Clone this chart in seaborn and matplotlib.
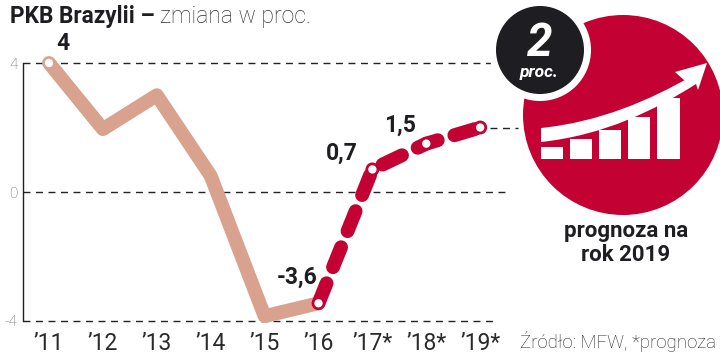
import matplotlib
matplotlib.use("Agg")
import matplotlib.pyplot as plt
import seaborn as sns
import pandas as pd
from matplotlib.patches import Circle, Rectangle, PathPatch, Polygon
from matplotlib.path import Path

sns.set_theme(style="white")
plt.rcParams['font.family'] = ['Roboto', 'DejaVu Sans']

years = [2011, 2012, 2013, 2014, 2015, 2016, 2017, 2018, 2019]
tick_labels = ["’11", "’12", "’13", "’14", "’15", "’16", "’17*", "’18*", "’19*"]
actual_years = years[:6]
actual_values = [4, 1.95, 3.0, 0.5, -3.85, -3.45]
forecast_years = years[5:]
forecast_values = [-3.45, 0.7, 1.5, 2.0]
marker_years = [2011, 2016, 2017, 2018, 2019]
marker_values = [4, -3.45, 0.7, 1.5, 2.0]
y_ticks = [4, 0, -4]
guide_levels = [4, 2, 0, -4]
guide_ends_px = [492, 518, 508, 496]

SALMON = "#D9A28E"
RED = "#C30233"
INK = "#1E1E22"

W, H = 720, 354
fig = plt.figure(figsize=(W/100, H/100), dpi=100, facecolor="white")

L, R, T, B = 23, 720, 63, 321
ax = fig.add_axes([L/W, 1-B/H, (R-L)/W, (B-T)/H], facecolor="none")
ax.set_ylim(-4, 4)
x_of = lambda px: 2011 + (px-49)/53.9
ax.set_xlim(x_of(L), x_of(R))

bg = fig.add_axes([0, 0, 1, 1], zorder=-1)
fg = fig.add_axes([0, 0, 1, 1], zorder=5, facecolor="none")
for a in (bg, fg):
    a.set_xlim(0, W); a.set_ylim(H, 0); a.axis("off")

# guide lines
for lev, end in zip(guide_levels, guide_ends_px):
    start = 0 if lev != 2 else (490-L)/(R-L)
    ax.axhline(lev, xmin=start, xmax=(end-L)/(R-L), color="#222222", lw=1.0,
               ls=(0, (5, 4)), zorder=1, clip_on=False)

# series
actual = pd.DataFrame({"year": actual_years, "value": actual_values})
forecast = pd.DataFrame({"year": forecast_years, "value": forecast_values})
markers = pd.DataFrame({"year": marker_years, "value": marker_values})

sns.lineplot(data=forecast, x="year", y="value", ax=ax, color=RED, lw=10, zorder=3)
l = ax.lines[-1]
l.set_linestyle((0, (1.55, 1.25)))
l.set_dash_capstyle("round")
l.set_dash_joinstyle("round")
l.set_clip_on(False)

sns.lineplot(data=actual, x="year", y="value", ax=ax, color=SALMON, lw=10, zorder=2.5)
l = ax.lines[-1]
l.set_solid_capstyle("round")
l.set_solid_joinstyle("round")
l.set_clip_on(False)

# red discs keep the white dots visible where they fall in a dash gap
sns.scatterplot(data=forecast.iloc[1:], x="year", y="value", ax=ax, color=RED, s=100,
                edgecolor="none", zorder=3.5, clip_on=False)
sns.scatterplot(data=markers, x="year", y="value", ax=ax, color="white", s=36,
                edgecolor="none", zorder=4, clip_on=False)

ax.set_xticks(years)
ax.set_xticklabels(tick_labels, fontsize=16.5, color="#2a2a2a")
ax.set_yticks(y_ticks)
ax.set_yticklabels(["4", "0", "-4"], fontsize=11, color="#666666", fontweight="light")
ax.tick_params(axis="both", length=0)
ax.tick_params(axis="x", pad=8)
ax.tick_params(axis="y", pad=4)
ax.set_xlabel(""); ax.set_ylabel("")
sns.despine(ax=ax, left=False, bottom=True, top=True, right=True)
ax.spines["left"].set_color("#222222")
ax.spines["left"].set_linewidth(1.0)

# title
fg.text(10, 16, "PKB Brazylii –", fontsize=16.3, fontweight="bold", color=INK,
        va="center", ha="left")
fg.text(160, 16, "zmiana w proc.", fontsize=16.6, fontweight="light", color="#333333",
        va="center", ha="left")

# value labels
for px, py, s in [(63, 44, "4"), (297, 277, "-3,6"), (342, 153, "0,7"), (400, 125, "1,5")]:
    fg.text(px, py, s, fontsize=16.5, fontweight="bold", color=INK, ha="center", va="center")

fg.text(716, 341, "Źródło: MFW, *prognoza", fontsize=13.4, fontweight="light",
        color="#222222", ha="right", va="center")

# infographic
bg.add_patch(Circle((623, 115), 100, fc=RED, ec="none"))
fg.add_patch(Circle((540, 50), 51, fc="white", ec="none"))
fg.add_patch(Circle((540, 50), 44, fc=INK, ec="none"))
fg.text(540, 44, "2", fontsize=33, fontweight="bold", fontstyle="italic", color="white",
        ha="center", va="center")
fg.text(539, 72, "proc.", fontsize=12.5, fontweight="bold", fontstyle="italic", color="white",
        ha="center", va="center")

for x0, x1, top in [(541, 563, 147), (570, 592, 139), (599, 621, 130), (628, 650, 117), (657, 680, 98)]:
    fg.add_patch(Rectangle((x0, top), x1-x0, 159-top, fc="white", ec="none"))

band = Path([(541, 128), (600, 122), (650, 100), (692, 76),
             (696, 84), (655, 110), (605, 135), (541, 142), (541, 128)],
            [Path.MOVETO, Path.CURVE4, Path.CURVE4, Path.CURVE4,
             Path.LINETO, Path.CURVE4, Path.CURVE4, Path.CURVE4, Path.CLOSEPOLY])
fg.add_patch(PathPatch(band, fc="white", ec="none"))
fg.add_patch(Polygon([(707, 63), (675, 72), (684, 80), (696, 84), (698, 90)], closed=True,
                     fc="white", ec="none"))

fg.text(626, 243, "prognoza na\nrok 2019", fontsize=16, fontweight="bold", color=INK,
        ha="center", va="center", linespacing=1.12)

fig.savefig("out.png", dpi=100, facecolor="white")
